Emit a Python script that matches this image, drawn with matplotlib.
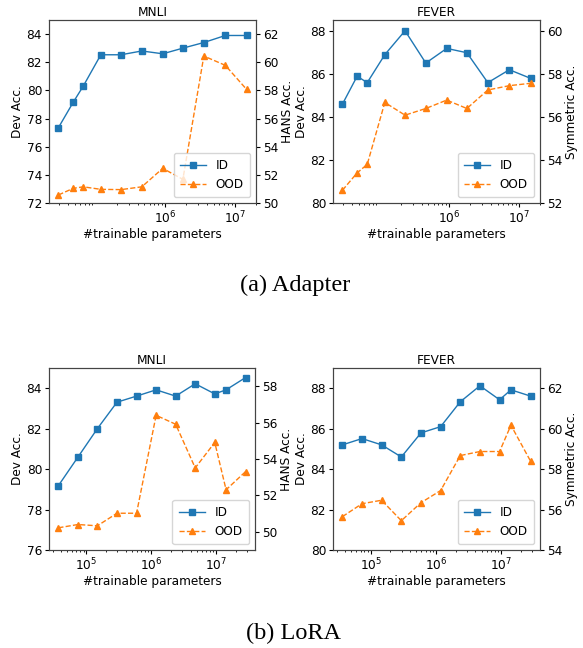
import matplotlib
matplotlib.use('Agg')
import matplotlib.pyplot as plt
from matplotlib.ticker import MultipleLocator

# Data
adapter_params = [2.93e4, 4.77e4, 6.65e4, 1.19e5, 2.32e5, 4.61e5, 9.2e5, 1.79e6, 3.58e6, 7.28e6, 1.47e7]
lora_params = [3.69e4, 7.37e4, 1.47e5, 2.95e5, 5.9e5, 1.18e6, 2.36e6, 4.72e6, 9.44e6, 1.41e7, 2.82e7]

adapter_mnli_id = [77.35, 79.15, 80.3, 82.53, 82.53, 82.8, 82.6, 83.0, 83.4, 83.9, 83.9]
adapter_mnli_ood = [50.57, 51.04, 51.15, 50.97, 50.95, 51.15, 52.46, 51.68, 60.44, 59.78, 58.07]
adapter_fever_id = [84.59, 85.89, 85.59, 86.89, 88.0, 86.5, 87.18, 86.98, 85.59, 86.19, 85.79]
adapter_fever_ood = [52.59, 53.40, 53.79, 56.67, 56.08, 56.39, 56.78, 56.39, 57.25, 57.45, 57.56]

lora_mnli_id = [79.18, 80.59, 82.0, 83.31, 83.61, 83.92, 83.61, 84.22, 83.72, 83.92, 84.53]
lora_mnli_ood = [50.22, 50.4, 50.33, 51.02, 51.02, 56.4, 55.91, 53.51, 54.91, 52.31, 53.31]
lora_fever_id = [85.2, 85.51, 85.2, 84.6, 85.79, 86.1, 87.33, 88.12, 87.43, 87.92, 87.61]
lora_fever_ood = [55.65, 56.29, 56.46, 55.45, 56.34, 56.94, 58.67, 58.87, 58.87, 60.17, 58.39]

FS = 8.7
W, H = 583, 648


def panel(rect, x, y_id, y_ood, title, right_label, ylim1, ylim2, top_row):
    ax = fig.add_axes(rect)
    ax2 = ax.twinx()
    l1, = ax.plot(x, y_id, color='#1f77b4', marker='s', markersize=4,
                  linewidth=1, label='ID')
    l2, = ax2.plot(x, y_ood, color='#ff7f0e', marker='^', markersize=4.5,
                   linewidth=1, linestyle='--', label='OOD')
    ax.set_xscale('log')
    if top_row:
        ax.set_xticks([1e6, 1e7])
    ax.set_ylim(*ylim1)
    ax2.set_ylim(*ylim2)
    ax.yaxis.set_major_locator(MultipleLocator(2))
    ax2.yaxis.set_major_locator(MultipleLocator(2))
    ax.set_title(title, fontsize=FS, pad=3)
    ax.set_xlabel('#trainable parameters', fontsize=FS, labelpad=1)
    ax.set_ylabel('Dev Acc.', fontsize=FS, labelpad=2)
    ax2.set_ylabel(right_label, fontsize=FS, labelpad=2)
    for a in (ax, ax2):
        a.tick_params(labelsize=FS, length=3, pad=2)
        a.tick_params(which='minor', length=1.5)
        for s in a.spines.values():
            s.set_linewidth(0.8)
            s.set_color('#444444')
    ax2.legend([l1, l2], ['ID', 'OOD'], loc='lower right', fontsize=FS,
               handlelength=2.2, borderpad=0.5, labelspacing=0.5)


fig = plt.figure(figsize=(W / 100, H / 100), dpi=100)


def rect(x0, x1, y0, y1):
    return [x0 / W, 1 - y1 / H, (x1 - x0) / W, (y1 - y0) / H]


panel(rect(49, 256, 20, 203), adapter_params, adapter_mnli_id, adapter_mnli_ood,
      'MNLI', 'HANS Acc.', (72, 85), (50, 63), True)
panel(rect(333, 540, 20, 203), adapter_params, adapter_fever_id, adapter_fever_ood,
      'FEVER', 'Symmetric Acc.', (80, 88.5), (52, 60.5), True)
panel(rect(49, 255, 368, 550), lora_params, lora_mnli_id, lora_mnli_ood,
      'MNLI', 'HANS Acc.', (76, 85), (49, 59), False)
panel(rect(333, 540, 368, 550), lora_params, lora_fever_id, lora_fever_ood,
      'FEVER', 'Symmetric Acc.', (80, 89), (54, 63), False)

fig.text(295 / W, 1 - 285 / H, '(a) Adapter', family='Liberation Serif',
         fontsize=17.5, ha='center', va='center')
fig.text(294 / W, 1 - 633 / H, '(b) LoRA', family='Liberation Serif',
         fontsize=17.5, ha='center', va='center')

fig.savefig('out.png', dpi=100)
